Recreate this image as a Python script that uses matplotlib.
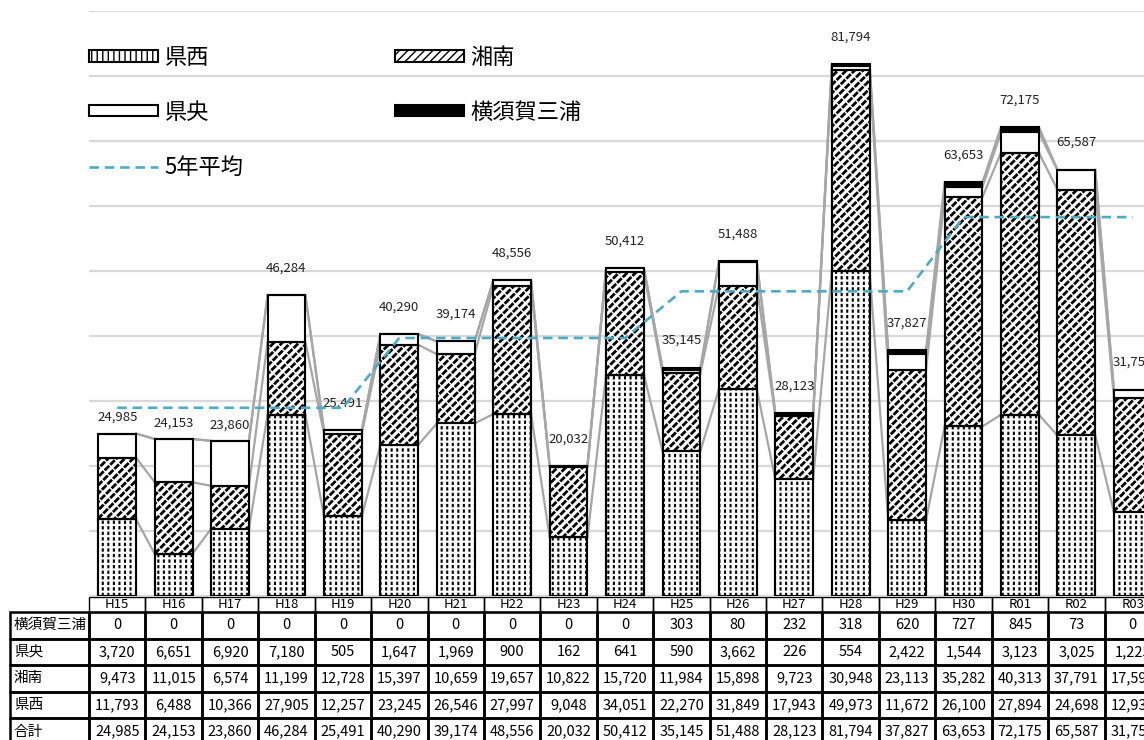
import numpy as np
import matplotlib.pyplot as plt
from matplotlib.patches import Rectangle

plt.rcParams['font.family'] = ['Noto Sans CJK JP', 'DejaVu Sans']

years = ['H15', 'H16', 'H17', 'H18', 'H19', 'H20', 'H21', 'H22', 'H23', 'H24',
         'H25', 'H26', 'H27', 'H28', 'H29', 'H30', 'R01', 'R02', 'R03']
kensei = [11793, 6488, 10366, 27905, 12257, 23245, 26546, 27997, 9048, 34051,
          22270, 31849, 17943, 49973, 11672, 26100, 27894, 24698, 12933]
shonan = [9473, 11015, 6574, 11199, 12728, 15397, 10659, 19657, 10822, 15720,
          11984, 15898, 9723, 30948, 23113, 35282, 40313, 37791, 17592]
kenou = [3720, 6651, 6920, 7180, 505, 1647, 1969, 900, 162, 641,
         590, 3662, 226, 554, 2422, 1544, 3123, 3025, 1225]
yokosuka = [0, 0, 0, 0, 0, 0, 0, 0, 0, 0,
            303, 80, 232, 318, 620, 727, 845, 73, 0]
total = [24985, 24153, 23860, 46284, 25491, 40290, 39174, 48556, 20032, 50412,
         35145, 51488, 28123, 81794, 37827, 63653, 72175, 65587, 31751]
avg5 = [28955, 28955, 28955, 28955, 28955, 39693, 39693, 39693, 39693, 39693,
        46875, 46875, 46875, 46875, 46875, 58292, 58292, 58292, 58292]

W, H = 1144, 740


def box(x0, y0, x1, y1):
    # pixel box -> figure fraction rect
    return [x0 / W, 1 - y1 / H, (x1 - x0) / W, (y1 - y0) / H]


fig = plt.figure(figsize=(W / 100, H / 100), dpi=100)
ax = fig.add_axes(box(89, 11, 1161, 596))
ax.set_xlim(-0.5, len(years) - 0.5)
ax.set_ylim(0, 90000)
ax.set_yticks(np.arange(0, 90001, 10000))
ax.grid(axis='y', color='#d9d9d9', lw=1.6)
ax.set_axisbelow(True)
ax.tick_params(left=False, bottom=False, labelleft=False, labelbottom=False)
for s in ax.spines.values():
    s.set_visible(False)

x = np.arange(len(years))
bw = 0.67
# name, values, fill, hatch, hatch width, white overlay hatch, overlay width
series = [
    ('県西', kensei, 'white', '|||', 1.5, '---', 1.6),
    ('湘南', shonan, 'white', '////', 2.0, '\\\\\\', 1.0),
    ('県央', kenou, 'white', None, 1.0, None, 1.0),
    ('横須賀三浦', yokosuka, 'black', None, 1.0, None, 1.0),
]

bottom = np.zeros(len(years))
tops = []
bars = {}
for name, vals, fc, hatch, hlw, over, olw in series:
    vals = np.array(vals, dtype=float)
    with plt.rc_context({'hatch.linewidth': hlw}):
        b = ax.bar(x, vals, bw, bottom=bottom, color=fc, edgecolor='black',
                   lw=1.5, hatch=hatch, zorder=3, label=name)
    bars[name] = b
    if over:
        # white hatch on top breaks the black pattern into short pieces
        with plt.rc_context({'hatch.linewidth': olw}):
            ax.bar(x, vals, bw, bottom=bottom, fill=False, edgecolor='white',
                   lw=0, hatch=over, zorder=3.1)
        ax.bar(x, vals, bw, bottom=bottom, fill=False, edgecolor='black',
               lw=1.5, zorder=3.2)
    bottom = bottom + vals
    tops.append(bottom.copy())

# series lines between neighbouring bars
for lvl in tops:
    for i in range(len(years) - 1):
        ax.plot([x[i] + bw / 2, x[i + 1] - bw / 2], [lvl[i], lvl[i + 1]],
                color='#a6a6a6', lw=1.6, zorder=2)

avg_line, = ax.plot(x, avg5, color='#4bacc6', lw=1.9, ls=(0, (3.6, 2.2)),
                    zorder=5, label='5年平均')

for i, t in enumerate(total):
    off = 11.5 if i < 3 else 19.5
    ax.annotate(f'{t:,}', (x[i], t), xytext=(0, off), textcoords='offset points',
                ha='center', va='center', fontsize=9.5, color='#222222')

handles = [bars['県西'], bars['県央'], avg_line, bars['湘南'], bars['横須賀三浦']]
labels = ['県西', '県央', '5年平均', '湘南', '横須賀三浦']
fig.legend(handles, labels, ncol=2, loc='upper left',
           bbox_to_anchor=(89 / W, 1 - 46 / H), frameon=False, fontsize=16,
           handlelength=3.1, handleheight=0.4, handletextpad=0.3,
           labelspacing=1.43, columnspacing=6.8, borderpad=0, borderaxespad=0)

# data table under the bars
tax = fig.add_axes(box(10, 597, 1161, 745))
label_w = 79 / 56.4
hdr = 0.56
tax.set_xlim(-0.5 - label_w, len(years) - 0.5)
tax.set_ylim(hdr + 5, 0)
tax.axis('off')

for i, yr in enumerate(years):
    tax.add_patch(Rectangle((i - 0.5, 0), 1, hdr, fill=False, ec='black',
                            lw=1.0, clip_on=False))
    tax.text(i, hdr / 2, yr, ha='center', va='center', fontsize=9.5)

rows = [('横須賀三浦', yokosuka), ('県央', kenou), ('湘南', shonan),
        ('県西', kensei), ('合計', total)]
for r, (name, vals) in enumerate(rows):
    y0 = hdr + r
    tax.add_patch(Rectangle((-0.5 - label_w, y0), label_w, 1, fill=False,
                            ec='black', lw=1.8, clip_on=False))
    tax.text(-0.5 - label_w + 0.07, y0 + 0.5, name, ha='left', va='center',
             fontsize=10.5)
    for i, v in enumerate(vals):
        tax.add_patch(Rectangle((i - 0.5, y0), 1, 1, fill=False, ec='black',
                                lw=1.8, clip_on=False))
        tax.text(i, y0 + 0.5, f'{v:,}', ha='center', va='center', fontsize=10.5)

fig.savefig('out.png', dpi=100)
